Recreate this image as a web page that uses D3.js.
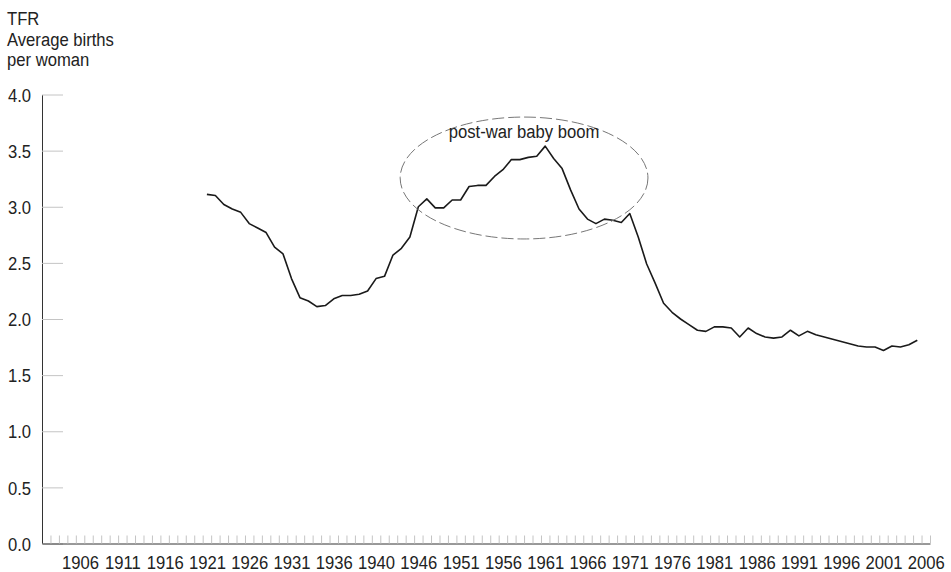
<!DOCTYPE html>
<meta charset="utf-8">
<style>
body { margin: 0; background: #fff; }
text { font-family: "Liberation Sans", Arial, sans-serif; fill: #222; }
</style>
<body>
<script src="https://cdnjs.cloudflare.com/ajax/libs/d3/7.8.5/d3.min.js"></script>
<script>

var width = 951,
    height = 572;

// TFR per year, 1921-2005
var years = [1921,1922,1923,1924,1925,1926,1927,1928,1929,1930,
             1931,1932,1933,1934,1935,1936,1937,1938,1939,1940,
             1941,1942,1943,1944,1945,1946,1947,1948,1949,1950,
             1951,1952,1953,1954,1955,1956,1957,1958,1959,1960,
             1961,1962,1963,1964,1965,1966,1967,1968,1969,1970,
             1971,1972,1973,1974,1975,1976,1977,1978,1979,1980,
             1981,1982,1983,1984,1985,1986,1987,1988,1989,1990,
             1991,1992,1993,1994,1995,1996,1997,1998,1999,2000,
             2001,2002,2003,2004,2005];
var tfr = [3.11,3.10,3.02,2.98,2.95,2.85,2.81,2.77,2.64,2.58,
           2.36,2.19,2.16,2.11,2.12,2.18,2.21,2.21,2.22,2.25,
           2.36,2.38,2.57,2.63,2.73,3.00,3.07,2.99,2.99,3.06,
           3.06,3.18,3.19,3.19,3.27,3.33,3.42,3.42,3.44,3.45,
           3.54,3.43,3.34,3.15,2.98,2.89,2.85,2.89,2.88,2.86,
           2.94,2.73,2.49,2.32,2.14,2.06,2.00,1.95,1.90,1.89,
           1.93,1.93,1.92,1.84,1.92,1.87,1.84,1.83,1.84,1.90,
           1.85,1.89,1.86,1.84,1.82,1.80,1.78,1.76,1.75,1.75,
           1.72,1.76,1.75,1.77,1.81];

var labelYears = [1906,1911,1916,1921,1926,1931,1936,1941,1946,1951,
                  1956,1961,1966,1971,1976,1981,1986,1991,1996,2001,2006];
var labelText = ["1906","1911","1916","1921","1926","1931","1936","1940","1946","1951",
                 "1956","1961","1966","1971","1976","1981","1986","1991","1996","2001","2006"];
var yTicks = [0, 0.5, 1.0, 1.5, 2.0, 2.5, 3.0, 3.5, 4.0];
var titleLines = ["TFR", "Average births", "per woman"];
var firstYear = 1902, lastYear = 2006;

// ellipse round the boom: centre (year, tfr) and radii
var boom = { year: 1958.5, value: 3.256, ryears: 14.65, rvalue: 0.543, label: "post-war baby boom", labelValue: 3.61 };

var fs = 18.5, sx = 0.9; // text is a bit condensed in the original

var svg = d3.select("body").append("svg")
    .attr("width", width)
    .attr("height", height);

var x = d3.scaleLinear()
    .domain([firstYear - 0.5, lastYear + 0.5])
    .range([42, 930]);

var y = d3.scaleLinear()
    .domain([0, 4])
    .range([543.5, 94.5]);

// y axis
var yAxis = svg.append("g")
    .attr("transform", "translate(" + x.range()[0] + ",0)")
    .call(d3.axisLeft(y).tickValues(yTicks).tickSize(-21).tickSizeOuter(0).tickPadding(10)
      .tickFormat(d3.format(".1f")));
yAxis.select(".domain").attr("stroke", "#333");
yAxis.selectAll(".tick line").attr("stroke", "#c4c4c4");
yAxis.selectAll(".tick text")
    .style("font-size", fs + "px")
    .attr("transform", "scale(" + sx + ",1)")
    .attr("x", -11 / sx)
    .attr("dy", "0.36em")
    .attr("fill", "#222");

// x axis: one tick per year boundary
var bounds = d3.range(firstYear + 0.5, lastYear + 1, 1);
var xTicks = svg.append("g")
    .attr("transform", "translate(0," + y(0) + ")")
    .call(d3.axisBottom(x).tickValues(bounds).tickSize(-8).tickSizeOuter(0).tickFormat(""));
xTicks.selectAll(".tick line").attr("stroke", "#c4c4c4");
xTicks.select(".domain").attr("stroke", "#333");

var xLabels = svg.append("g")
    .attr("transform", "translate(0," + y(0) + ")")
    .call(d3.axisBottom(x).tickValues(labelYears).tickSize(0).tickPadding(12)
      .tickFormat(function(d, i) { return labelText[i]; }));
xLabels.select(".domain").remove();
xLabels.selectAll(".tick text")
    .style("font-size", fs + "px")
    .attr("transform", "scale(" + sx + ",1)")
    .attr("fill", "#222");

// axis title
titleLines.forEach(function(t, i) {
  svg.append("text")
      .attr("transform", "translate(7," + (25 + i * 20.7) + ") scale(" + sx + ",1)")
      .style("font-size", fs + "px")
      .text(t);
});

// the line
var line = d3.line()
    .x(function(d, i) { return x(years[i]); })
    .y(function(d) { return y(d); });

svg.append("path")
    .datum(tfr)
    .attr("fill", "none")
    .attr("stroke", "#1a1a1a")
    .attr("stroke-width", 1.6)
    .attr("stroke-linejoin", "round")
    .attr("d", line);

// annotation
svg.append("ellipse")
    .attr("cx", x(boom.year))
    .attr("cy", y(boom.value))
    .attr("rx", x(boom.year + boom.ryears) - x(boom.year))
    .attr("ry", y(boom.value - boom.rvalue) - y(boom.value))
    .attr("fill", "none")
    .attr("stroke", "#777")
    .attr("stroke-width", 1)
    .attr("stroke-dasharray", "12,4");

svg.append("text")
    .attr("transform", "translate(" + x(boom.year) + "," + y(boom.labelValue) + ") scale(" + sx + ",1)")
    .attr("text-anchor", "middle")
    .style("font-size", fs + "px")
    .text(boom.label);

</script>
